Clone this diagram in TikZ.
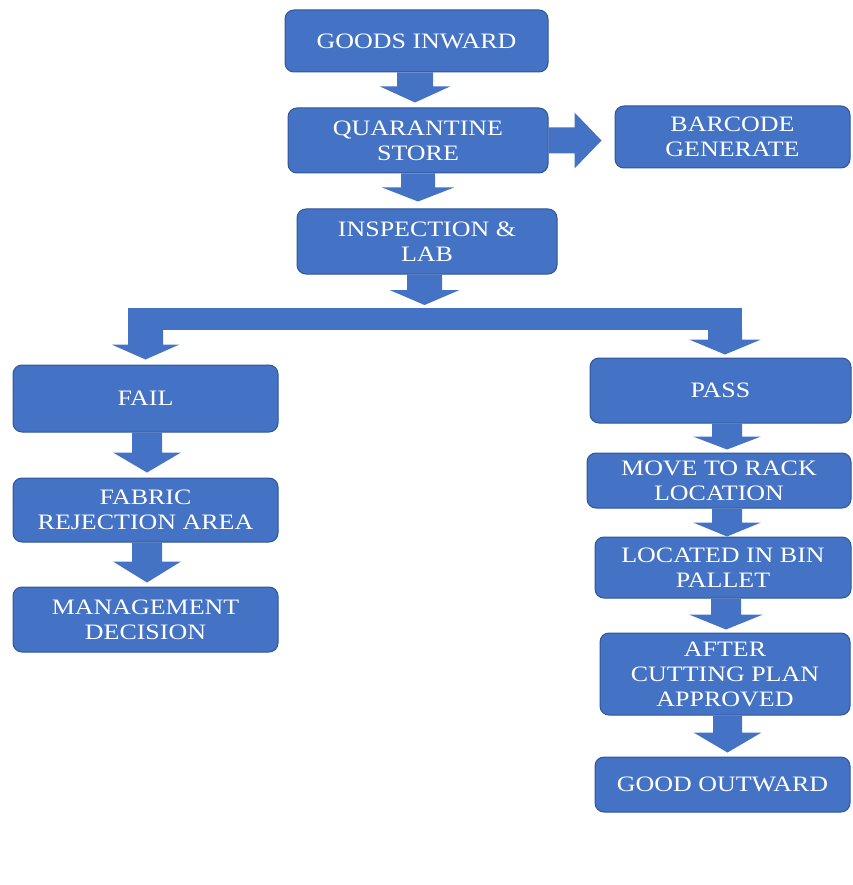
\documentclass[tikz,border=0pt]{standalone}
\usepackage{fontspec}
\setmainfont{Liberation Serif}[FakeStretch=1.18]
\usetikzlibrary{calc}
\definecolor{boxblue}{HTML}{4472C4}
\definecolor{edgeblue}{HTML}{2F5597}
\tikzset{
  flowbox/.style={draw=edgeblue, line width=1pt, fill=boxblue, rounded corners=9pt,
    text=white, align=center, inner sep=0pt,
    font=\fontsize{22}{25}\selectfont},
  blk/.style={fill=boxblue}
}
% vertical block arrow: #1 x (pt), #2 from, #3 to, #4 shaft half, #5 head half, #6 head length, #7 gap at tip
\newcommand\blkdown[7]{%
  \path[blk] let \p1=(#2), \p2=(#3) in
    ({#1pt-#4pt},\y1) -- ({#1pt+#4pt},\y1) -- ({#1pt+#4pt},\y2+#7pt+#6pt)
    -- ({#1pt+#5pt},\y2+#7pt+#6pt) -- (#1pt,\y2+#7pt) -- ({#1pt-#5pt},\y2+#7pt+#6pt)
    -- ({#1pt-#4pt},\y2+#7pt+#6pt) -- cycle;}
\begin{document}
\begin{tikzpicture}[x=1pt,y=-1pt]
\useasboundingbox (0,0) rectangle (852,885);
% boxes
\node[flowbox, minimum width=263pt, minimum height=62pt] (gi) at (416.5,41) {GOODS INWARD};
\node[flowbox, minimum width=260pt, minimum height=65pt] (qs) at (418,140.5) {QUARANTINE\\STORE};
\node[flowbox, minimum width=235pt, minimum height=62pt] (bc) at (732.5,137) {BARCODE\\GENERATE};
\node[flowbox, minimum width=260pt, minimum height=65pt] (il) at (427,241.5) {INSPECTION \&\\LAB};
\node[flowbox, minimum width=265pt, minimum height=67pt] (fail) at (145.5,398.5) {FAIL};
\node[flowbox, minimum width=265pt, minimum height=64pt] (fra) at (145.5,510) {FABRIC\\REJECTION AREA};
\node[flowbox, minimum width=265pt, minimum height=65pt] (md) at (145.5,619.5) {MANAGEMENT\\DECISION};
\node[flowbox, minimum width=261pt, minimum height=65pt] (pass) at (720.5,390.5) {PASS};
\node[flowbox, minimum width=264pt, minimum height=55pt] (mr) at (719,480.5) {MOVE TO RACK\\LOCATION};
\node[flowbox, minimum width=256pt, minimum height=61pt] (lb) at (723,567.5) {LOCATED IN BIN\\PALLET};
\node[flowbox, minimum width=250pt, minimum height=82pt] (ac) at (725,674) {AFTER\\CUTTING PLAN\\APPROVED};
\node[flowbox, minimum width=255pt, minimum height=55pt] (go) at (722.5,784.5) {GOOD OUTWARD};
% branch bar
\coordinate (barTL) at (128,308);
\coordinate (barBR) at (742,330);
\coordinate (barT) at (424,308);
\coordinate (barBl) at (145.5,330);
\coordinate (barBr) at (725,330);
\fill[blk] (barTL) rectangle (barBR);
% arrows
\blkdown{415}{gi.south}{qs.north}{18}{35}{16}{5}
\blkdown{418}{qs.south}{il.north}{17}{36}{14}{7}
\blkdown{424.5}{il.south}{barT}{17.5}{35}{15}{3}
\blkdown{145.5}{barBl}{fail.north}{17.5}{34}{15}{5}
\blkdown{725}{barBr}{pass.north}{17}{36}{15}{3}
\blkdown{147}{fail.south}{fra.north}{15}{34}{20}{5}
\blkdown{147}{fra.south}{md.north}{15}{34}{21}{4}
\blkdown{727}{pass.south}{mr.north}{15}{34}{13}{3}
\blkdown{727}{mr.south}{lb.north}{15}{34}{14}{0}
\blkdown{726}{lb.south}{ac.north}{15}{37}{15}{3}
\blkdown{727.5}{ac.south}{go.north}{14.5}{34}{20}{4}
% horizontal arrow quarantine -> barcode
\path[blk] let \p1=(qs.east), \p2=(bc.west) in
  (\x1,\y1-13pt) -- (\x2-13pt-27pt,\y1-13pt) -- (\x2-13pt-27pt,\y1-28pt) -- (\x2-13pt,\y1)
  -- (\x2-13pt-27pt,\y1+28pt) -- (\x2-13pt-27pt,\y1+13pt) -- (\x1,\y1+13pt) -- cycle;
\end{tikzpicture}
\end{document}
